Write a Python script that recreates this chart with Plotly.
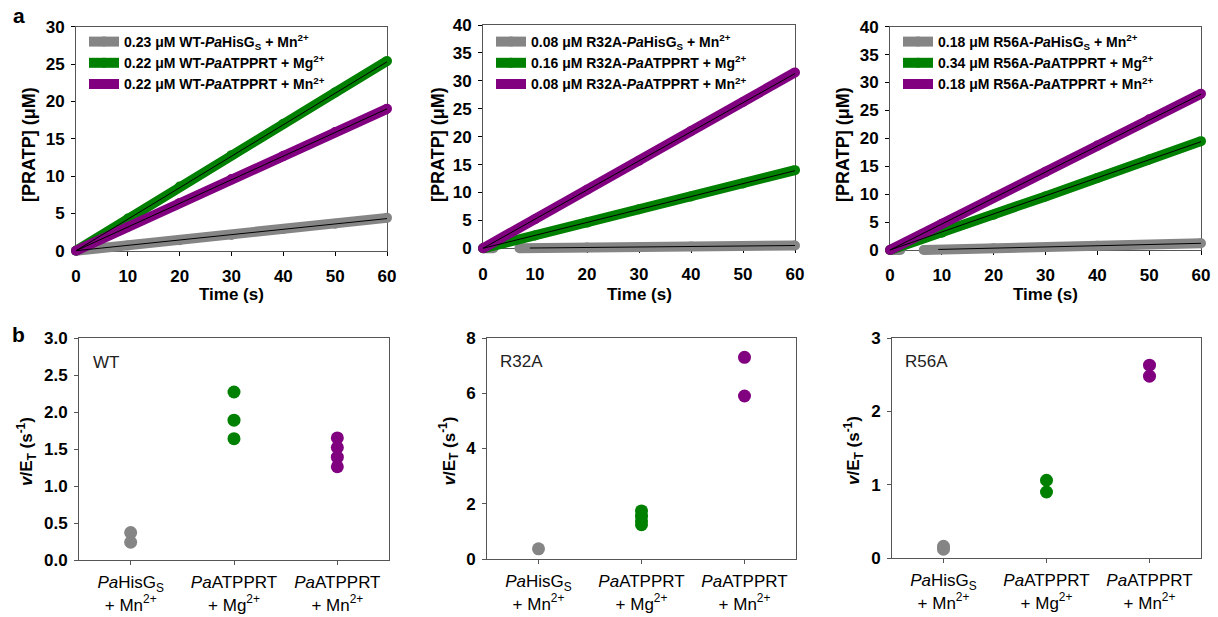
import plotly.graph_objects as go

W, H = 1218, 617
FONT = "Liberation Sans, Arial, sans-serif"
GRAY, GREEN, PURPLE = "#858585", "#008000", "#800080"
AXC = "#555555"

# ---------------- panel a : progress curves ----------------
time_s = [0, 10, 20, 30, 40, 50, 60]

wt_hisgs_t = time_s
wt_hisgs_mn = [0.0, 0.7, 1.4, 2.1, 2.9, 3.6, 4.4]
wt_atpprt_mg = [0.0, 4.3, 8.6, 12.8, 17.0, 21.2, 25.4]
wt_atpprt_mn = [0.0, 3.2, 6.4, 9.6, 12.7, 15.9, 19.0]

r32a_hisgs_t = [0, 2, None, 7, 20, 40, 60]
r32a_hisgs_mn = [0.0, 0.0, None, 0.0, 0.15, 0.33, 0.5]
r32a_atpprt_mg = [0.0, 2.3, 4.6, 7.0, 9.3, 11.6, 14.0]
r32a_atpprt_mn = [0.0, 5.2, 10.5, 15.7, 21.0, 26.2, 31.5]

r56a_hisgs_t = [0, 2, None, 6.5, 20, 40, 60]
r56a_hisgs_mn = [0.0, 0.0, None, 0.0, 0.3, 0.75, 1.2]
r56a_atpprt_mg = [0.0, 3.1, 6.3, 9.6, 12.9, 16.2, 19.5]
r56a_atpprt_mn = [0.0, 4.7, 9.4, 14.0, 18.7, 23.4, 28.0]

# linear fits: (t_start, t_end), (y_start, y_end)
wt_fits = [([0, 60], [0.0, 4.3]), ([0, 60], [0.0, 25.3]), ([0, 60], [0.0, 19.0])]
r32a_fits = [([9, 60], [0.05, 0.5]), ([0, 60], [0.0, 13.9]), ([0, 60], [0.0, 31.3])]
r56a_fits = [([9.3, 60], [0.1, 1.2]), ([0, 60], [0.0, 19.4]), ([0, 60], [0.0, 27.9])]

wt_legend = ["0.23 μM WT-<i>Pa</i>HisG<sub>S</sub> + Mn<sup>2+</sup>",
             "0.22 μM WT-<i>Pa</i>ATPPRT + Mg<sup>2+</sup>",
             "0.22 μM WT-<i>Pa</i>ATPPRT + Mn<sup>2+</sup>"]
r32a_legend = ["0.08 μM R32A-<i>Pa</i>HisG<sub>S</sub> + Mn<sup>2+</sup>",
               "0.16 μM R32A-<i>Pa</i>ATPPRT + Mg<sup>2+</sup>",
               "0.08 μM R32A-<i>Pa</i>ATPPRT + Mn<sup>2+</sup>"]
r56a_legend = ["0.18 μM R56A-<i>Pa</i>HisG<sub>S</sub> + Mn<sup>2+</sup>",
               "0.34 μM R56A-<i>Pa</i>ATPPRT + Mg<sup>2+</sup>",
               "0.18 μM R56A-<i>Pa</i>ATPPRT + Mn<sup>2+</sup>"]

top_xrange = 60
top_yrange = [30, 40, 40]

# ---------------- panel b : v/E_T ----------------
categories = ["<i>Pa</i>HisG<sub>S</sub><br>+ Mn<sup>2+</sup>",
              "<i>Pa</i>ATPPRT<br>+ Mg<sup>2+</sup>",
              "<i>Pa</i>ATPPRT<br>+ Mn<sup>2+</sup>"]

wt_rate_hisgs_mn = [0.37, 0.24]
wt_rate_atpprt_mg = [2.27, 1.89, 1.64]
wt_rate_atpprt_mn = [1.65, 1.52, 1.39, 1.26]

r32a_rate_hisgs_mn = [0.37]
r32a_rate_atpprt_mg = [1.74, 1.55, 1.38, 1.24]
r32a_rate_atpprt_mn = [7.3, 5.9]

r56a_rate_hisgs_mn = [0.16, 0.12]
r56a_rate_atpprt_mg = [1.06, 0.90]
r56a_rate_atpprt_mn = [2.63, 2.48]

variant_names = ["WT", "R32A", "R56A"]
bottom_yrange = [3.0, 8, 3]
bottom_dtick = [0.5, 2, 1]
bottom_fmt = [".1f", "d", "d"]

# ---------------- layout geometry (px) ----------------
top_box = [(76, 387, 26.7, 250.7), (483, 795, 25, 248.3), (890, 1201, 26.7, 250)]
bot_box = [(79, 389, 338, 560), (487, 796, 338, 559), (892, 1201, 338, 558)]
top_ytitle_x = [29, 438, 843]
bot_ytitle_x = [26, 449, 854]
legend_pos = [(84, 26), (491, 26), (898, 26)]
label_pos = [(91, 362), (498, 361), (903, 361)]
PAD = 10  # extra px of drawing room around the data subplots (no clipping of thick lines)


def fx(p):
    return p / W


def fy(p):
    return 1 - p / H


fig = go.Figure()
colors = [GRAY, GREEN, PURPLE]

# empty traces so the framed (visible) top axes get drawn
for i in range(3):
    n = "" if i == 0 else str(i + 1)
    fig.add_trace(go.Scatter(x=[], y=[], showlegend=False, hoverinfo="skip",
                             xaxis="x" + n, yaxis="y" + n))

top_sets = [
    ([wt_hisgs_t, time_s, time_s], [wt_hisgs_mn, wt_atpprt_mg, wt_atpprt_mn], wt_fits, wt_legend),
    ([r32a_hisgs_t, time_s, time_s], [r32a_hisgs_mn, r32a_atpprt_mg, r32a_atpprt_mn], r32a_fits, r32a_legend),
    ([r56a_hisgs_t, time_s, time_s], [r56a_hisgs_mn, r56a_atpprt_mg, r56a_atpprt_mn], r56a_fits, r56a_legend),
]

for i, (ts, ys, fits, names) in enumerate(top_sets):
    ax = str(i + 7)  # data axes (same scale as visible axes, larger clip area)
    leg = "legend" if i == 0 else "legend%d" % (i + 1)
    for t, y, c, n in zip(ts, ys, colors, names):
        fig.add_trace(go.Scatter(
            x=t, y=y, mode="lines+markers", name=n,
            line=dict(color=c, width=10),
            marker=dict(color=c, size=10),
            cliponaxis=False, legend=leg,
            xaxis="x" + ax, yaxis="y" + ax))
    for (ft, fv) in fits:
        fig.add_trace(go.Scatter(
            x=ft, y=fv, mode="lines", line=dict(color="black", width=1),
            showlegend=False, xaxis="x" + ax, yaxis="y" + ax))

bot_sets = [
    [wt_rate_hisgs_mn, wt_rate_atpprt_mg, wt_rate_atpprt_mn],
    [r32a_rate_hisgs_mn, r32a_rate_atpprt_mg, r32a_rate_atpprt_mn],
    [r56a_rate_hisgs_mn, r56a_rate_atpprt_mg, r56a_rate_atpprt_mn],
]
for i, groups in enumerate(bot_sets):
    ax = str(i + 4)
    for k, (vals, c) in enumerate(zip(groups, colors)):
        fig.add_trace(go.Scatter(
            x=[k] * len(vals), y=vals, mode="markers",
            marker=dict(color=c, size=13), showlegend=False,
            cliponaxis=False, xaxis="x" + ax, yaxis="y" + ax))

layout = dict(
    width=W, height=H, margin=dict(l=0, r=0, t=0, b=0),
    paper_bgcolor="white", plot_bgcolor="rgba(0,0,0,0)",
    font=dict(family=FONT, color="black"),
    showlegend=True,
)

bold17 = dict(family=FONT, size=17, color="black", weight="bold")
reg17 = dict(family=FONT, size=17, color="black")

for i, (l, r, t, b) in enumerate(top_box):
    n = "" if i == 0 else str(i + 1)
    layout["xaxis" + n] = dict(
        domain=[fx(l), fx(r)], anchor="y" + n, range=[0, top_xrange],
        tickvals=time_s, ticks="outside", ticklen=4, ticklabelstandoff=6,
        tickcolor="black", showline=True, linecolor=AXC, linewidth=1, mirror=True,
        showgrid=False, zeroline=False, tickfont=bold17, automargin=False)
    layout["yaxis" + n] = dict(
        domain=[fy(b), fy(t)], anchor="x" + n, range=[0, top_yrange[i]],
        dtick=5, ticks="outside", ticklen=4, tickcolor="black", ticklabelstandoff=3,
        showline=True, linecolor=AXC, linewidth=1, mirror=True,
        showgrid=False, zeroline=False, tickfont=bold17, automargin=False)
    # invisible data axes with identical px scale but padded domain
    m = str(i + 7)
    sx = top_xrange / (r - l)
    sy = top_yrange[i] / (b - t)
    layout["xaxis" + m] = dict(
        domain=[fx(l - PAD), fx(r + PAD)], anchor="y" + m,
        range=[-PAD * sx, top_xrange + PAD * sx], visible=False,
        showgrid=False, zeroline=False)
    layout["yaxis" + m] = dict(
        domain=[fy(b + PAD), fy(t - PAD)], anchor="x" + m,
        range=[-PAD * sy, top_yrange[i] + PAD * sy], visible=False,
        showgrid=False, zeroline=False)
    leg = "legend" if i == 0 else "legend%d" % (i + 1)
    lx, ly = legend_pos[i]
    layout[leg] = dict(
        x=fx(lx), y=fy(ly), xanchor="left", yanchor="top",
        bgcolor="rgba(0,0,0,0)", borderwidth=0, tracegroupgap=0,
        font=dict(family=FONT, size=14, color="black", weight="bold"))

for i, (l, r, t, b) in enumerate(bot_box):
    n = str(i + 4)
    layout["xaxis" + n] = dict(
        domain=[fx(l), fx(r)], anchor="y" + n, range=[-0.5, 2.5],
        tickvals=[0, 1, 2], ticktext=categories, ticks="outside", ticklen=4,
        ticklabelstandoff=3,
        tickcolor=AXC, showline=True, linecolor=AXC, linewidth=1, mirror=True,
        showgrid=False, zeroline=False, tickfont=reg17, automargin=False)
    layout["yaxis" + n] = dict(
        domain=[fy(b), fy(t)], anchor="x" + n, range=[0, bottom_yrange[i]],
        dtick=bottom_dtick[i], tickformat=bottom_fmt[i], ticks="outside", ticklen=4,
        ticklabelstandoff=3,
        tickcolor=AXC, showline=True, linecolor=AXC, linewidth=1, mirror=True,
        showgrid=False, zeroline=False, tickfont=bold17, automargin=False)

C = dict(xref="paper", yref="paper", showarrow=False, xanchor="center", yanchor="middle")
ann = []
ann.append(dict(text="<b>a</b>", x=fx(19), y=fy(16),
                font=dict(family=FONT, size=21, color="black"), **C))
ann.append(dict(text="<b>b</b>", x=fx(18), y=fy(334),
                font=dict(family=FONT, size=21, color="black"), **C))
for i, (l, r, t, b) in enumerate(top_box):
    ann.append(dict(text="<b>Time (s)</b>", x=fx((l + r) / 2), y=fy(294),
                    font=bold17, **C))
    ann.append(dict(text="<b>[PRATP] (μM)</b>", x=fx(top_ytitle_x[i]), y=fy(145),
                    textangle=-90, font=dict(family=FONT, size=18, color="black"), **C))
for i, (l, r, t, b) in enumerate(bot_box):
    ann.append(dict(text="<b><i>v</i>/E<sub>T</sub> (s<sup>-1</sup>)</b>",
                    x=fx(bot_ytitle_x[i]), y=fy((t + b) / 2 + 3), textangle=-90,
                    font=dict(family=FONT, size=17, color="black"), **C))
    px_, py_ = label_pos[i]
    ann.append(dict(text=variant_names[i], x=fx(px_), y=fy(py_),
                    xref="paper", yref="paper", showarrow=False,
                    xanchor="left", yanchor="middle",
                    font=dict(family=FONT, size=17, color="#222222")))

layout["annotations"] = ann
fig.update_layout(**layout)
fig.write_html("out.html", config={"displayModeBar": False},
               post_script="document.body.style.margin='0px';")
